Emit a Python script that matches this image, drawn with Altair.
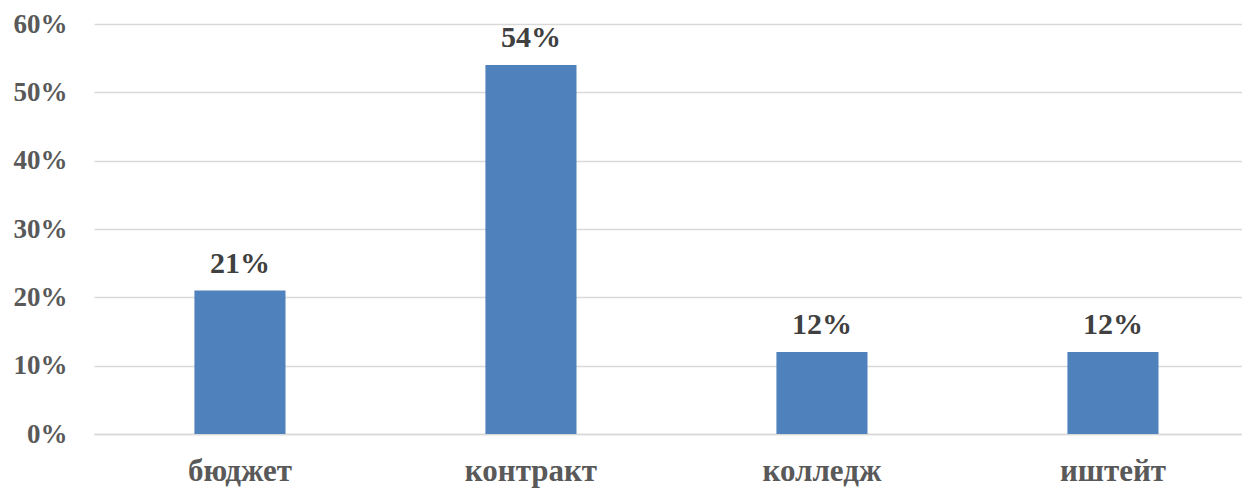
import altair as alt
import pandas as pd

categories = ["бюджет", "контракт", "колледж", "иштейт"]
values = [0.21, 0.54, 0.12, 0.12]
labels = ["21%", "54%", "12%", "12%"]

df = pd.DataFrame({"cat": categories, "val": values, "lab": labels})

FONT = "Liberation Serif"

x = alt.X(
    "cat:N",
    sort=categories,
    title=None,
    scale=alt.Scale(paddingInner=0.687, paddingOuter=0.316, align=0.546),
    axis=alt.Axis(
        labelAngle=0,
        labelFont=FONT,
        labelFontSize=31,
        labelFontWeight="bold",
        labelColor="#595959",
        labelBaseline="alphabetic",
        labelPadding=46,
        ticks=False,
        domainColor="#D9D9D9",
        domainWidth=1.5,
        grid=False,
    ),
)

y = alt.Y(
    "val:Q",
    title=None,
    scale=alt.Scale(domain=[0, 0.6], nice=False),
    axis=alt.Axis(
        values=[0, 0.1, 0.2, 0.3, 0.4, 0.5, 0.6],
        format=".0%",
        labelFont=FONT,
        labelFontSize=27,
        labelFontWeight="bold",
        labelColor="#595959",
        labelPadding=27,
        labelBaseline="middle",
        ticks=False,
        domain=False,
        gridColor="#D9D9D9",
        gridWidth=1.5,
    ),
)

bars = alt.Chart(df).mark_bar(color="#4F81BD").encode(x=x, y=y)
text = alt.Chart(df).mark_text(
    font=FONT, fontSize=30, fontWeight="bold", color="#404040",
    baseline="alphabetic", dy=-18,
).encode(x=x, y=y, text="lab:N")

chart = (bars + text).properties(
    width=1148,
    height=410,
    background="white",
    padding={"left": 86, "top": 16, "right": 0, "bottom": 54},
    autosize=alt.AutoSizeParams(type="none"),
).configure_view(stroke=None)

chart.save("out.html", embed_options={"renderer": "svg", "actions": False})
